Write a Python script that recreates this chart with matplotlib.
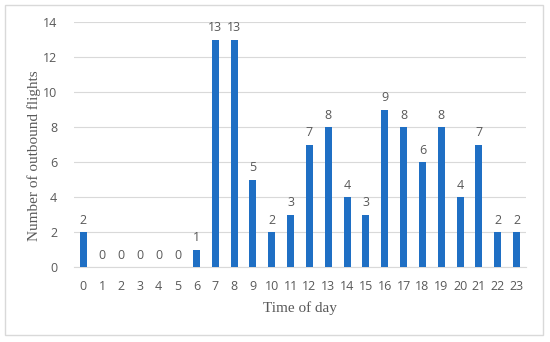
import matplotlib.pyplot as plt
from matplotlib.patches import Rectangle

hours = [str(h) for h in range(24)]
flights = [2, 0, 0, 0, 0, 0, 1, 13, 13, 5, 2, 3, 7, 8, 4, 3, 9, 8, 6, 8, 4, 7, 2, 2]
yticks = [0, 2, 4, 6, 8, 10, 12, 14]

grey = '#595959'
fig = plt.figure(figsize=(5.5, 3.42), dpi=100)
fig.patches.append(Rectangle((5/550, 7/342), 538/550, 330/342, transform=fig.transFigure,
                             fill=False, edgecolor='#d9d9d9', linewidth=1))
ax = fig.add_axes([74/550, 75/342, 452/550, 245/342])

x = range(len(hours))
bars = ax.bar(x, flights, width=0.38, color='#1f6fc4', zorder=3)
for xi, v in zip(x, flights):
    ax.text(xi, v + 0.3, str(v), ha='center', va='bottom', fontsize=9,
            color=grey, family='Open Sans')

ax.set_xlim(-0.5, 23.5)
ax.set_ylim(0, 14)
ax.set_xticks(list(x))
ax.set_xticklabels(hours)
ax.set_yticks(yticks)
ax.grid(axis='y', color='#d9d9d9', linewidth=0.8, zorder=0)
for s in ['top', 'right', 'left']:
    ax.spines[s].set_visible(False)
ax.spines['bottom'].set_color('#d9d9d9')
ax.tick_params(length=0, labelsize=9, colors=grey, pad=9)
ax.tick_params(axis='y', pad=12)
for lab in ax.get_xticklabels() + ax.get_yticklabels():
    lab.set_family('Open Sans')
ax.set_xlabel('Time of day', family='Liberation Serif', fontsize=11, color=grey, labelpad=6)
ax.set_ylabel('Number of outbound flights', family='Liberation Serif', fontsize=11,
              color=grey)
ax.yaxis.set_label_coords(-0.072, 0.455)

plt.savefig('out.png', dpi=100)
